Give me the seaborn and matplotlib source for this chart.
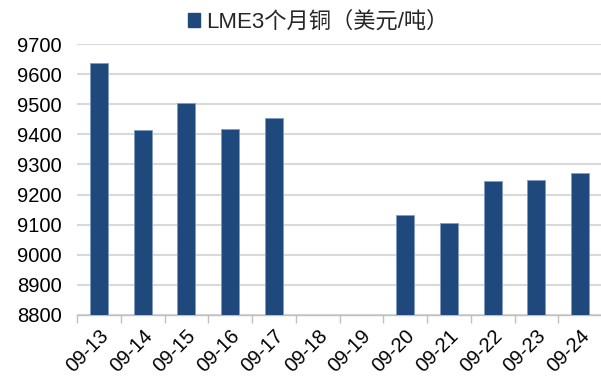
import matplotlib
matplotlib.use("Agg")
import matplotlib.pyplot as plt
from matplotlib.patches import Patch
import numpy as np
import pandas as pd
import seaborn as sns

# LME 3-month copper, daily
dates = ["09-13", "09-14", "09-15", "09-16", "09-17", "09-18",
         "09-19", "09-20", "09-21", "09-22", "09-23", "09-24"]
prices = [9637, 9415, 9503, 9417, 9455, np.nan,
          np.nan, 9131, 9106, 9245, 9250, 9270]
yticks = [8800, 8900, 9000, 9100, 9200, 9300, 9400, 9500, 9600, 9700]
series_name = "LME3个月铜（美元/吨）"

bar_color = "#1F497D"
grid_color = "#D9D9D9"

sns.set_theme(style="white")
plt.rcParams["font.family"] = ["Liberation Sans", "Noto Sans CJK SC", "DejaVu Sans"]

df = pd.DataFrame({"date": dates, "price": prices})

fig = plt.figure(figsize=(6.01, 3.81), dpi=100)
ax = fig.add_axes([77 / 601, 66 / 381, 525 / 601, 271 / 381])

sns.barplot(data=df, x="date", y="price", order=dates, color=bar_color,
            width=0.41, saturation=1, edgecolor="#7F9CC4", linewidth=0.6,
            ax=ax, zorder=3)

ax.set_ylim(8800, 9700)
ax.set_xlim(-0.5, len(dates) - 0.5)
ax.set_yticks(yticks)
ax.set_yticklabels([str(v) for v in yticks], fontsize=14.5, color="#000000")
ax.yaxis.grid(True, color=grid_color, linewidth=1.5, zorder=0)
ax.xaxis.grid(False)

ax.set_xticks(range(len(dates)))
ax.set_xticklabels(dates, rotation=45, ha="right", va="top",
                   rotation_mode="anchor", fontsize=14.5, color="#000000")
ax.set_xticks(np.arange(-0.5, len(dates), 1.0), minor=True)
ax.tick_params(axis="x", which="major", length=0, pad=8)
ax.tick_params(axis="x", which="minor", length=6, width=1, color="#BFBFBF",
               direction="out", bottom=True)
ax.tick_params(axis="y", length=0, pad=11)

for side in ["left", "right", "top"]:
    ax.spines[side].set_visible(False)
ax.spines["bottom"].set_color("#BFBFBF")
ax.spines["bottom"].set_linewidth(1)

ax.set_xlabel("")
ax.set_ylabel("")

handle = Patch(facecolor=bar_color, edgecolor=bar_color)
fig.legend([handle], [series_name], loc="center",
           bbox_to_anchor=(318 / 601, 1 - 22 / 381), frameon=False,
           prop={"size": 16}, handlelength=0.55, handleheight=0.55,
           handletextpad=0.25)

fig.savefig("out.png", dpi=100)
